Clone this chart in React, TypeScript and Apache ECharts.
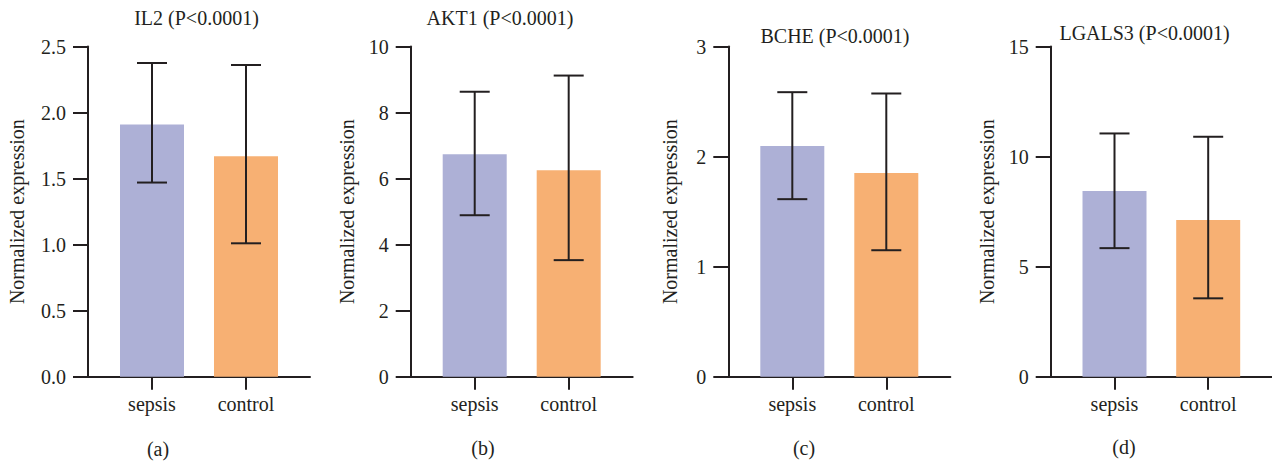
import React, { useEffect, useRef } from "react";
import * as echarts from "echarts";

const categories = ["sepsis", "control"];
const genes = ["IL2", "AKT1", "BCHE", "LGALS3"];
const pText = ["P<0.0001", "P<0.0001", "P<0.0001", "P<0.0001"];
const panelTags = ["(a)", "(b)", "(c)", "(d)"];

const il2Mean = [1.91, 1.67];
const il2Low = [1.47, 1.01];
const il2High = [2.375, 2.36];

const akt1Mean = [6.74, 6.25];
const akt1Low = [4.89, 3.53];
const akt1High = [8.63, 9.12];

const bcheMean = [2.095, 1.85];
const bcheLow = [1.613, 1.149];
const bcheHigh = [2.585, 2.573];

const lgals3Mean = [8.44, 7.12];
const lgals3Low = [5.84, 3.56];
const lgals3High = [11.05, 10.9];

const yMaxes = [2.5, 10, 3, 15];
const yIntervals = [0.5, 2, 1, 5];
const yDecimals = [1, 0, 0, 0];

const means = [il2Mean, akt1Mean, bcheMean, lgals3Mean];
const lows = [il2Low, akt1Low, bcheLow, lgals3Low];
const highs = [il2High, akt1High, bcheHigh, lgals3High];

const barColors = ["#ADB0D6", "#F7B073"];
const ink = "#231F20";
const font = "'Liberation Serif', 'DejaVu Serif', serif";

// layout (pixels)
const gridLefts = [88, 410.7, 728.3, 1050.7];
const gridWidth = 222;
const gridTop = 46.5;
const gridHeight = 330.2;
const nameGaps = [61, 54, 48, 54];
const titlePos = [
  [196.5, 18],
  [500, 18],
  [835, 36],
  [1144.5, 33],
];
const tagPos = [
  [158, 449],
  [483, 448],
  [804, 448],
  [1124, 447],
];

export default function App() {
  const ref = useRef<HTMLDivElement>(null);
  useEffect(() => {
    if (!ref.current) return;
    const chart = echarts.init(ref.current, null, { renderer: "svg" });
    const grids: any[] = [];
    const xAxes: any[] = [];
    const yAxes: any[] = [];
    const series: any[] = [];
    const graphics: any[] = [];
    for (let i = 0; i < 4; i++) {
      grids.push({
        left: gridLefts[i],
        top: gridTop,
        width: gridWidth,
        height: gridHeight,
        containLabel: false,
      });
      xAxes.push({
        gridIndex: i,
        type: "value",
        min: -0.681,
        max: 1.681,
        splitLine: { show: false },
        axisLine: { show: true, onZero: false, lineStyle: { color: ink, width: 2 } },
        axisTick: {
          show: true,
          customValues: [0, 1],
          length: 13,
          lineStyle: { color: ink, width: 2 },
        },
        axisLabel: {
          show: true,
          customValues: [0, 1],
          formatter: (v: number) => categories[Math.round(v)] ?? "",
          margin: 17,
          color: ink,
          fontFamily: font,
          fontSize: 20,
        },
      });
      const dec = yDecimals[i];
      yAxes.push({
        gridIndex: i,
        type: "value",
        min: 0,
        max: yMaxes[i],
        interval: yIntervals[i],
        name: "Normalized expression",
        nameLocation: "middle",
        nameGap: nameGaps[i],
        nameRotate: 90,
        nameTextStyle: { color: ink, fontFamily: font, fontSize: 20 },
        splitLine: { show: false },
        axisLine: { show: true, onZero: false, lineStyle: { color: ink, width: 2 } },
        axisTick: { show: true, length: 15, lineStyle: { color: ink, width: 2 } },
        axisLabel: {
          margin: 22,
          color: ink,
          fontFamily: font,
          fontSize: 20,
          formatter: (v: number) => v.toFixed(dec),
        },
      });
      series.push({
        type: "bar",
        xAxisIndex: i,
        yAxisIndex: i,
        barWidth: 64,
        data: categories.map((_, k) => ({
          value: [k, means[i][k]],
          itemStyle: { color: barColors[k] },
        })),
      });
      series.push({
        type: "custom",
        xAxisIndex: i,
        yAxisIndex: i,
        encode: { x: 0, y: [1, 2] },
        data: categories.map((_, k) => [k, lows[i][k], highs[i][k]]),
        renderItem: (params: any, api: any) => {
          const x = api.value(0);
          const lo = api.coord([x, api.value(1)]);
          const hi = api.coord([x, api.value(2)]);
          const hw = 15;
          const st = { stroke: ink, lineWidth: 2 };
          return {
            type: "group",
            children: [
              { type: "line", shape: { x1: lo[0], y1: lo[1], x2: hi[0], y2: hi[1] }, style: st },
              { type: "line", shape: { x1: hi[0] - hw, y1: hi[1], x2: hi[0] + hw, y2: hi[1] }, style: st },
              { type: "line", shape: { x1: lo[0] - hw, y1: lo[1], x2: lo[0] + hw, y2: lo[1] }, style: st },
            ],
          };
        },
        z: 5,
      });
      graphics.push({
        type: "text",
        x: titlePos[i][0],
        y: titlePos[i][1],
        style: {
          text: `${genes[i]} (${pText[i]})`,
          fill: ink,
          fontFamily: font,
          fontSize: 20,
          textAlign: "center",
          textVerticalAlign: "middle",
        },
      });
      graphics.push({
        type: "text",
        x: tagPos[i][0],
        y: tagPos[i][1],
        style: {
          text: panelTags[i],
          fill: ink,
          fontFamily: font,
          fontSize: 20,
          textAlign: "center",
          textVerticalAlign: "middle",
        },
      });
    }
    chart.setOption({
      animation: false,
      backgroundColor: "#ffffff",
      grid: grids,
      xAxis: xAxes,
      yAxis: yAxes,
      series,
      graphic: graphics,
    });
    return () => chart.dispose();
  }, []);
  return (
    <div
      ref={ref}
      style={{ position: "absolute", left: 0, top: 0, width: 1272, height: 461 }}
    />
  );
}
